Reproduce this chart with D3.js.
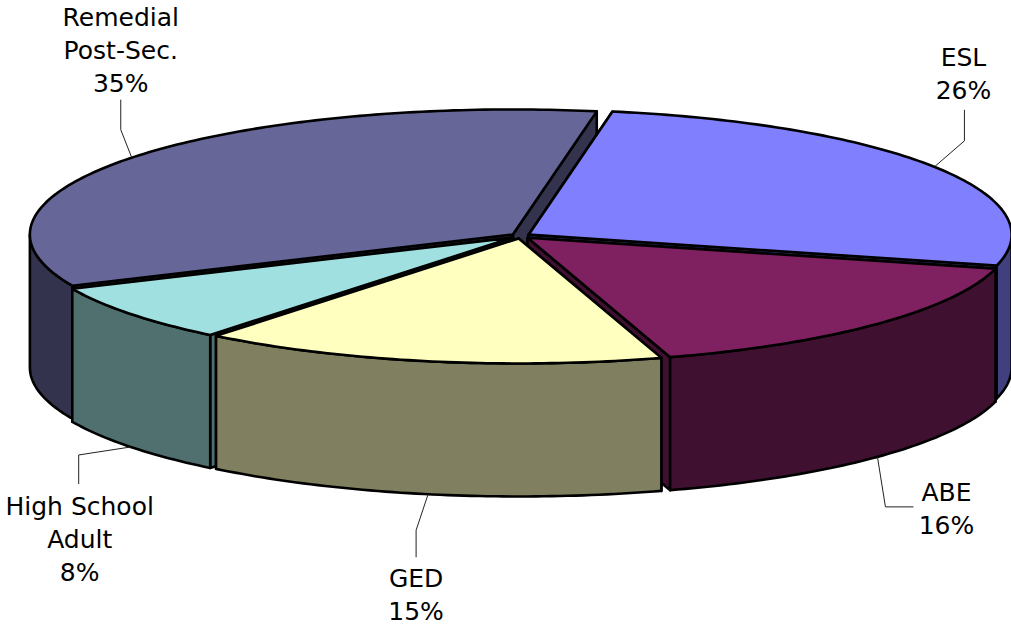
<!DOCTYPE html>
<html>
<head>
<meta charset="utf-8">
<script src="https://cdn.jsdelivr.net/npm/d3@7"></script>
<style>
body { margin: 0; background: #fff; }
svg { display: block; }
.label { font-family: "DejaVu Sans", sans-serif; font-size: 25px; fill: #000; text-anchor: middle; }
</style>
</head>
<body>
<script>
var categories = ['ESL', 'ABE', 'GED', 'High School Adult', 'Remedial Post-Sec.'];
var labelLines = [['ESL'], ['ABE'], ['GED'], ['High School', 'Adult'], ['Remedial', 'Post-Sec.']];
var shares = [26.2, 16.25, 15.55, 7.5, 34.5];
var percents = ['26%', '16%', '15%', '8%', '35%'];
var topColors = ['#8080ff', '#7f2060', '#ffffc0', '#a0e0e0', '#666699'];
var wallColors = ['#40407f', '#401030', '#808060', '#507070', '#33334d'];

var width = 1011, height = 626;
var cx = 520.5, cy = 236, rx = 483, ry = 125, depth = 133;
var explode = 0.02;
var startAngle = 10 * Math.PI / 180;

var x = d3.scaleLinear().domain([-1, 1]).range([cx - rx, cx + rx]);
var y = d3.scaleLinear().domain([-1, 1]).range([cy - ry, cy + ry]);

var svg = d3.select('body').append('svg')
    .attr('width', width)
    .attr('height', height);

var pie = d3.pie().sort(null).startAngle(startAngle).endAngle(startAngle + 2 * Math.PI);
var arcs = pie(shares).map(function (d, i) {
    var mid = (d.startAngle + d.endAngle) / 2;
    return {
        i: i, a0: d.startAngle, a1: d.endAngle, mid: mid,
        ox: explode * Math.sin(mid), oy: -explode * Math.cos(mid)
    };
});

var line = d3.line().x(function (d) { return d[0]; }).y(function (d) { return d[1]; });

function rim(d, a, drop) {
    return [x(d.ox + Math.sin(a)), y(d.oy - Math.cos(a)) + (drop || 0)];
}
function apex(d, drop) {
    return [x(d.ox), y(d.oy) + (drop || 0)];
}
function arcPoints(d, a0, a1, drop) {
    var n = Math.max(2, Math.ceil((a1 - a0) * 60));
    return d3.range(n + 1).map(function (k) {
        return rim(d, a0 + (a1 - a0) * k / n, drop);
    });
}

// back to front, this order makes the overlaps come out right
var drawOrder = [4, 0, 3, 1, 2];
var group = svg.selectAll('g.slice')
    .data(drawOrder.map(function (i) { return arcs[i]; }))
    .enter().append('g')
    .attr('class', 'slice')
    .attr('stroke', '#000')
    .attr('stroke-width', 2.6)
    .attr('stroke-linejoin', 'round');

// cut faces, the one turned away goes first
group.each(function (d) {
    var g = d3.select(this);
    var faces = d.mid > Math.PI ? [d.a1, d.a0] : [d.a0, d.a1];
    faces.forEach(function (a) {
        g.append('path')
            .attr('fill', wallColors[d.i])
            .attr('d', line([apex(d), rim(d, a), rim(d, a, depth), apex(d, depth)]) + 'Z');
    });
});

// outer wall, only the part facing the viewer
group.each(function (d) {
    var lo = Math.PI / 2, hi = 3 * Math.PI / 2;
    var a0 = Math.max(d.a0, lo), a1 = Math.min(d.a1, hi);
    if (a1 <= a0) return;
    var pts = arcPoints(d, a0, a1, 0).concat(arcPoints(d, a0, a1, depth).reverse());
    d3.select(this).append('path')
        .attr('fill', wallColors[d.i])
        .attr('d', line(pts) + 'Z');
});

// top faces
group.append('path')
    .attr('fill', function (d) { return topColors[d.i]; })
    .attr('d', function (d) {
        return line([apex(d)].concat(arcPoints(d, d.a0, d.a1, 0))) + 'Z';
    });

// leader lines start on the rim at the slice middle, elbow and text are placed from there
var leaderLayout = [
    {elbow: [30, -26], end: [30, -57], text: [29, -101], side: 'top'},
    {elbow: [8, 50], end: [36, 50], text: [69, 44], side: 'wall'},
    {elbow: [-12, 36], end: [-12, 63], text: [-12, 93], side: 'wall'},
    {elbow: [-52, 8], end: [-52, 37], text: [-51, 68], side: 'wall'},
    {elbow: [-11, -28], end: [-11, -58], text: [-11, -132], side: 'top'}
];
var lineGap = 33;

arcs.forEach(function (d) {
    var l = leaderLayout[d.i];
    var p = rim(d, d.mid, l.side === 'wall' ? depth : 0);
    svg.append('path')
        .attr('fill', 'none')
        .attr('stroke', '#222')
        .attr('stroke-width', 1)
        .attr('d', line([
            p,
            [p[0] + l.elbow[0], p[1] + l.elbow[1]],
            [p[0] + l.end[0], p[1] + l.end[1]]
        ]));

    var lines = labelLines[d.i].concat(percents[d.i]);
    svg.append('text')
        .attr('class', 'label')
        .selectAll('tspan')
        .data(lines)
        .enter().append('tspan')
        .attr('x', p[0] + l.text[0])
        .attr('y', function (t, k) { return p[1] + l.text[1] + k * lineGap; })
        .text(function (t) { return t; });
});
</script>
</body>
</html>
